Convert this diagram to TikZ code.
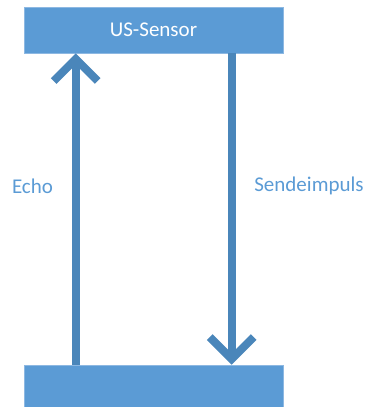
\documentclass[tikz,border=0pt]{standalone}
\usepackage{fontspec}
\setmainfont{Carlito}
\usetikzlibrary{arrows.meta}
\definecolor{boxblue}{HTML}{5B9BD5}
\definecolor{boxedge}{HTML}{8DB8E2}
\definecolor{arrblue}{HTML}{4A86BA}
\begin{document}
\begin{tikzpicture}[x=1pt,y=-1pt,
  blk/.style={draw=boxedge,line width=0.6pt,fill=boxblue,minimum width=259pt,minimum height=46pt,inner sep=0pt,text=white,font=\fontsize{21}{25}\selectfont},
  lbl/.style={text=boxblue,font=\fontsize{21}{25}\selectfont,inner sep=0pt},
  arr/.style={draw=arrblue,line width=8pt,-{Straight Barb[length=22pt,width=44pt]}}]
\useasboundingbox (0,0) rectangle (367,407);
\node[blk] (top) at (153.5,30) {US-Sensor};
\node[blk] (bot) at (153.5,388) {};
\draw[arr] ([xshift=52pt]bot.north west) -- ([xshift=52pt]top.south west);
\draw[arr] ([xshift=208pt]top.south west) -- ([xshift=208pt]bot.north west);
\node[lbl] (echo) at (32.5,186) {Echo};
\node[lbl] (send) at (309,186) {Sendeimpuls};
\end{tikzpicture}
\end{document}
